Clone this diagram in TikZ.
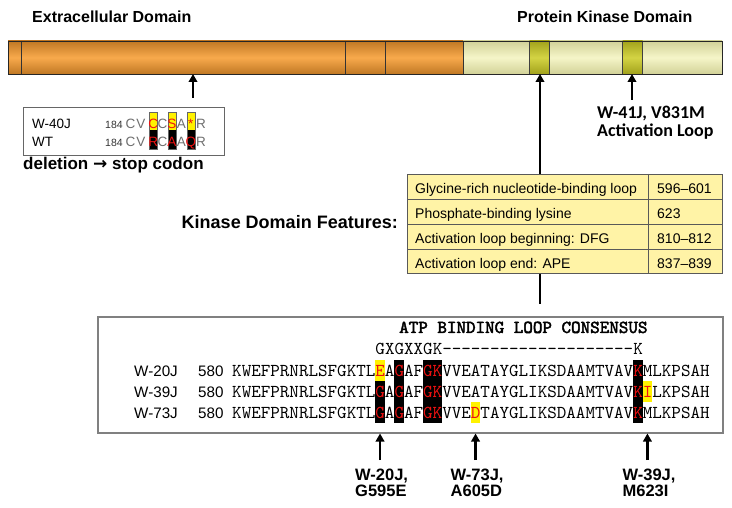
\documentclass[tikz,border=0pt]{standalone}
\usepackage{fontspec}
\setmainfont{Liberation Sans}
\newfontfamily\calfont{Carlito}
\newfontfamily\seqfont{lmmono10-regular.otf}[Ligatures=TeXOff]
\newfontfamily\seqboldfont{lmmono10-regular.otf}[FakeBold=2.5, Ligatures=TeXOff]
\newfontfamily\arrowfont{DejaVu Sans}
\usetikzlibrary{arrows.meta, positioning}

\definecolor{orgdark}{HTML}{C07824}
\definecolor{orglight}{HTML}{F8AA4C}
\definecolor{kindark}{HTML}{D2D298}
\definecolor{kinlight}{HTML}{F5F5C8}
\definecolor{banddark}{HTML}{A2A21C}
\definecolor{bandlight}{HTML}{D4D444}
\definecolor{tabfill}{HTML}{FFF3A6}
\definecolor{hlyellow}{HTML}{FFF200}
\definecolor{resred}{HTML}{EE1111}
\definecolor{seqgray}{HTML}{6E6E6E}

\newcommand{\seqx}{232} % left edge of the aligned sequences
\newcommand{\seqcol}{9.55} % width of one residue column
\newcommand{\rd}[1]{\textcolor{resred}{#1}} % red residue
\newcommand{\hlcell}[4]{ % #1: column, #2: top y, #3: bottom y, #4: colour
  \fill[#4] ({\seqx+(#1-1)*\seqcol},#2) rectangle ({\seqx+#1*\seqcol},#3);
}

\begin{document}
\begin{tikzpicture}[x=1pt, y=-1pt,
  arr/.style={line width=2.4pt, -{Triangle[length=8pt,width=8.5pt]}},
  lbl/.style={font=\fontsize{16.5}{15.5}\selectfont\bfseries, inner sep=0pt},
  tabtxt/.style={font=\fontsize{14}{16}\selectfont, inner sep=0pt},
  seqtxt/.style={font=\seqfont\fontsize{18.19}{20}\selectfont, inner sep=0pt},
  rowtxt/.style={font=\fontsize{15.2}{17}\selectfont, inner sep=0pt},
  boxtxt/.style={font=\fontsize{13.5}{15}\selectfont, inner sep=0pt}]

\useasboundingbox (0,0) rectangle (732,508);

% Domain bar, orange part and kinase part
\shade[top color=orgdark, bottom color=orgdark, middle color=orglight] (8,41) rectangle (463,74);
\shade[top color=kindark, bottom color=kindark, middle color=kinlight] (463,41) rectangle (722,74);

% Darker bands in the kinase domain
\foreach \bx in {529.5,622.5}
{
    \shade[top color=banddark, bottom color=banddark, middle color=bandlight] (\bx,41) rectangle ++(20,33);
    \draw[black!75] (\bx,41) rectangle ++(20,33);
}

% Dividers of the bar
\foreach \dx in {21.5,345.5,385,463}
{
    \draw[black!80] (\dx,41) -- (\dx,74);
}
\draw[black!85, line width=0.9pt] (8,41) rectangle (722,74);
\coordinate (barbot) at (0,74);

% Domain titles
\node[lbl, font=\fontsize{16}{18}\selectfont\bfseries, anchor=base west] (ecdtitle) at (32,23) {Extracellular Domain};
\node[lbl, font=\fontsize{16}{18}\selectfont\bfseries, anchor=base west] (pkdtitle) at (517,23) {Protein Kinase Domain};

% W-40J box
\node[draw=black!60, line width=1pt, minimum width=201pt, minimum height=48pt, inner sep=0pt, anchor=north west] (w40box) at (23,107) {};
\node[boxtxt, anchor=base west] (w40name) at (32,129) {W-40J};
\node[boxtxt, anchor=base west] (wtname) at (32,147) {WT};
\node[boxtxt, font=\fontsize{10.5}{12}\selectfont, text=black!80, anchor=base west] (w40num) at (105,129) {184};
\node[boxtxt, font=\fontsize{10.5}{12}\selectfont, text=black!80, anchor=base west] (wtnum) at (105,147) {184};

% Codon marks, yellow over black
\foreach \cx in {153.3,171.8,190.8}
{
    \fill[hlyellow] (\cx-4,112) rectangle (\cx+4,130.5);
    \fill[black] (\cx-4,130.5) rectangle (\cx+4,149);
    \draw[black!60] (\cx-4,112) rectangle (\cx+4,149);
}

% Residues of both rows
\foreach \cx/\ca/\cb/\cc [count=\k] in {130.5/C/C/seqgray, 141/V/V/seqgray, 153.3/C/R/resred, 162.5/C/C/seqgray, 171.8/S/A/resred, 181.5/A/A/seqgray, 190.8/{*}/Q/resred, 201/R/R/seqgray}
{
    \node[boxtxt, text=\cc, anchor=base] (mutres\k) at (\cx,129) {\ca};
    \node[boxtxt, text=\cc, anchor=base] (wtres\k) at (\cx,147) {\cb};
}

\node[font=\fontsize{17}{20}\selectfont\bfseries, inner sep=0pt, anchor=base west] (dellabel) at (23,170) {deletion {\arrowfont\bfseries →} stop codon};

% Arrows up to the bar
\coordinate (w40tail) at (193,98);
\draw[arr] (w40tail) -- (w40tail |- barbot);
\coordinate (alooptail) at (632,100);
\draw[arr] (alooptail) -- (alooptail |- barbot);
\node[font=\calfont\fontsize{18}{17.5}\selectfont\bfseries, align=left, inner sep=0pt, anchor=north west] (aloopnote) at (597,106) {W-41J, V831M\\Activation Loop};

% Kinase feature table
\node[draw=black!65, fill=tabfill, line width=0.8pt, minimum width=315pt, minimum height=99pt, inner sep=0pt, anchor=north west] (feattab) at (407,174) {};
\foreach \ry in {199,224,249}
{
    \draw[black!65, line width=0.8pt] (407,\ry) -- (722,\ry);
}
\draw[black!65, line width=0.8pt] (648,174) -- (648,273);
\foreach \feat/\range [count=\r] in {Glycine-rich nucleotide-binding loop/596–601, Phosphate-binding lysine/623, Activation loop beginning: DFG/810–812, Activation loop end: APE/837–839}
{
    \node[tabtxt, anchor=base west] (feat\r) at (415,{168.3+25*\r}) {\feat};
    \node[tabtxt, anchor=base west] (range\r) at (657,{168.3+25*\r}) {\range};
}
\node[font=\fontsize{18}{20}\selectfont\bfseries, inner sep=0pt, anchor=base east] (featlabel) at (398,229) {Kinase Domain Features:};

% Long line from the bar through the table
\coordinate (pkdtick) at (540,74);
\draw[arr] (feattab.north -| pkdtick) -- (pkdtick);
\coordinate (atplink) at (540,304);
\draw[line width=2.4pt] (feattab.south -| pkdtick) -- (atplink);

% ATP binding loop box
\node[draw=black!50, line width=1.5pt, minimum width=625pt, minimum height=116pt, inner sep=0pt, anchor=north west] (atpbox) at (97,316) {};
\node[seqtxt, font=\seqboldfont\fontsize{18.19}{20}\selectfont, anchor=base west] (atptitle) at (399,333) {ATP BINDING LOOP CONSENSUS};
\node[seqtxt, anchor=base west] (consensus) at ({\seqx+15*\seqcol},354) {GXGXXGK--------------------K};

% Highlighted columns
\hlcell{16}{360}{381}{hlyellow}
\hlcell{16}{381}{423}{black}
\foreach \c in {18,21,22,43}
{
    \hlcell{\c}{360}{423}{black}
}
\hlcell{44}{381}{402}{hlyellow}
\hlcell{26}{402}{423}{hlyellow}

% Aligned rows
\foreach \name/\seq [count=\r] in {W-20J/{KWEFPRNRLSFGKTL\rd{E}A\rd{G}AF\rd{GK}VVEATAYGLIKSDAAMTVAV\rd{K}MLKPSAH}, W-39J/{KWEFPRNRLSFGKTL\rd{G}A\rd{G}AF\rd{GK}VVEATAYGLIKSDAAMTVAV\rd{KI}LKPSAH}, W-73J/{KWEFPRNRLSFGKTL\rd{G}A\rd{G}AF\rd{GK}VVE\rd{D}TAYGLIKSDAAMTVAV\rd{K}MLKPSAH}}
{
    \node[rowtxt, anchor=base west] (rowname\r) at (134,{355+21*\r}) {\name};
    \node[rowtxt, anchor=base west] (rownum\r) at (198,{355+21*\r}) {580};
    \node[seqtxt, anchor=base west] (rowseq\r) at (\seqx,{355+21*\r}) {\seq};
}

% Mutation arrows below the box
\foreach \c/\mut/\chg [count=\m] in {16/W-20J/G595E, 26/W-73J/A605D, 44/W-39J/M623I}
{
    \coordinate (hit\m) at ({\seqx+(\c-0.5)*\seqcol},460);
    \draw[arr] (hit\m) -- (hit\m |- atpbox.south);
    \node[lbl, align=left, anchor=north west] (mutnote\m) at ({\seqx+(\c-0.5)*\seqcol-25},469) {\mut,\\\chg};
}

\end{tikzpicture}
\end{document}
